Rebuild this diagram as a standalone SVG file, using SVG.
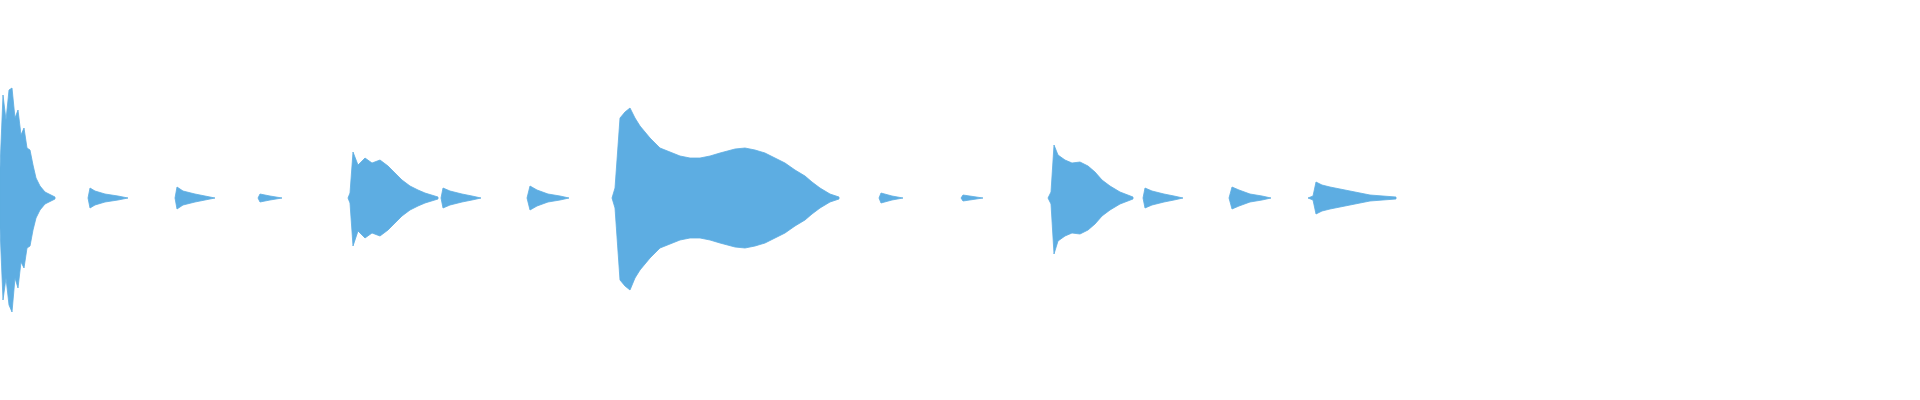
<svg xmlns="http://www.w3.org/2000/svg" width="1920" height="400" viewBox="0 0 1920 400">
<style>.w{fill:#5dade2;stroke:#5dade2;stroke-width:0.8;stroke-linejoin:round}.s{stroke:#5dade2;stroke-width:1.2}</style>
<rect width="1920" height="400" fill="#fff"/>
<g id="waveform">
<path class="w" d="M0,168 L3,95 L6,120 L9,90 L12,88 L15,118 L18,110 L21,135 L24,128 L27,148 L30,150 L33,165 L36,178 L40,186 L45,192 L55,197 L55,199 L45,204 L40,210 L36,218 L33,230 L30,246 L27,248 L24,268 L21,262 L18,288 L15,278 L12,312 L9,305 L6,278 L3,300 L0,228 Z"/>
<path class="w" d="M88,198 L90,188 L95,191 L105,194 L118,196 L128,198 L118,200 L105,202 L95,205 L90,208 Z"/>
<path class="w" d="M175,198 L177,187 L183,191 L195,194 L205,196 L215,198 L205,200 L195,202 L183,205 L177,209 Z"/>
<path class="w" d="M258,198 L260,194 L270,196 L282,198 L270,200 L260,202 Z"/>
<path class="w" d="M348,198 L350,193 L353,152 L358,165 L365,158 L372,163 L380,160 L388,166 L395,173 L402,180 L410,186 L418,190 L425,193 L438,197 L438,199 L425,203 L418,206 L410,210 L402,216 L395,223 L388,230 L380,236 L372,233 L365,238 L358,231 L353,246 L350,203 Z"/>
<path class="w" d="M441,198 L443,188 L450,191 L462,194 L472,196 L481,198 L472,200 L462,202 L450,205 L443,208 Z"/>
<path class="w" d="M527,198 L530,186 L537,190 L548,194 L560,196 L569,198 L560,200 L548,202 L537,206 L530,210 Z"/>
<path class="w" d="M612,198 L615,188 L620,118 L625,112 L630,108 L635,118 L640,126 L650,138 L660,148 L670,152 L680,156 L690,158 L700,158 L710,156 L720,153 L735,149 L745,148 L755,150 L765,153 L775,158 L785,163 L795,170 L805,176 L812,182 L820,188 L830,194 L839,197 L839,199 L830,202 L820,208 L812,214 L805,220 L795,226 L785,233 L775,238 L765,243 L755,246 L745,248 L735,247 L720,243 L710,240 L700,238 L690,238 L680,240 L670,244 L660,248 L650,258 L640,270 L635,278 L630,290 L625,286 L620,280 L615,208 Z"/>
<path class="w" d="M879,198 L881,193 L892,196 L903,198 L892,200 L881,203 Z"/>
<path class="w" d="M961,198 L963,195 L983,198 L963,201 Z"/>
<path class="w" d="M1048,198 L1051,192 L1054,145 L1058,155 L1065,160 L1072,163 L1080,162 L1088,166 L1095,172 L1102,180 L1110,186 L1120,192 L1133,197 L1133,199 L1120,204 L1110,210 L1102,216 L1095,224 L1088,230 L1080,234 L1072,233 L1065,236 L1058,241 L1054,254 L1051,204 Z"/>
<path class="w" d="M1143,198 L1145,188 L1152,191 L1164,194 L1174,196 L1183,198 L1174,200 L1164,202 L1152,205 L1145,208 Z"/>
<path class="w" d="M1229,198 L1232,187 L1239,190 L1250,194 L1262,196 L1271,198 L1262,200 L1250,202 L1239,206 L1232,209 Z"/>
<path class="w" d="M1308,198 L1313,196 L1316,182 L1322,185 L1330,187 L1340,189 L1350,191 L1360,193 L1370,195 L1396,197 L1396,199 L1370,201 L1360,203 L1350,205 L1340,207 L1330,209 L1322,211 L1316,214 L1313,200 Z"/>
</g>
</svg>
